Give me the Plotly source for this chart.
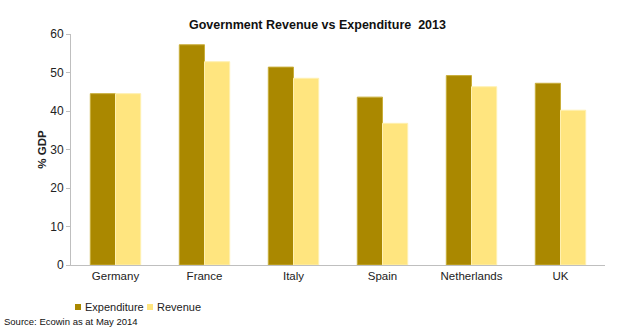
import plotly.graph_objects as go

countries = ["Germany", "France", "Italy", "Spain", "Netherlands", "UK"]
expenditure = [44.5, 57.2, 51.4, 43.6, 49.2, 47.2]
revenue = [44.5, 52.8, 48.5, 36.8, 46.3, 40.2]
y_ticks = [0, 10, 20, 30, 40, 50, 60]

series_names = ["Expenditure", "Revenue"]
series_colors = ["#AA8800", "#FFE57F"]
edge_colors = ["#C9AE3A", "#FFF0B0"]

FONT = "Liberation Sans, Arial, sans-serif"
W, H = 620, 328
ML, MR, MT, MB = 71, 15, 34, 63

fig = go.Figure()
for name, vals, col, edge in zip(series_names, [expenditure, revenue], series_colors, edge_colors):
    fig.add_trace(go.Bar(name=name, x=countries, y=vals, showlegend=False,
                         marker=dict(color=col, line=dict(color=edge, width=1))))

fig.update_layout(
    width=W, height=H,
    margin=dict(l=ML, r=MR, t=MT, b=MB, autoexpand=False),
    paper_bgcolor="white", plot_bgcolor="white",
    barmode="group", bargap=0.434, bargroupgap=0,
    font=dict(family=FONT, size=12, color="#222222"),
    title=dict(text="<b>Government Revenue vs Expenditure&nbsp;&nbsp;2013</b>",
               x=0.512, xanchor="center", y=1 - 25 / H, yanchor="middle",
               font=dict(size=12.5, color="#111111")),
    showlegend=False,
    xaxis=dict(showline=True, linecolor="#BFBFBF", linewidth=1, ticks="",
               tickfont=dict(size=11.5, color="#222222"), showgrid=False),
    yaxis=dict(range=[0, 60], tickvals=y_ticks, showline=True, linecolor="#BFBFBF",
               linewidth=1, ticks="outside", ticklen=4, tickcolor="#BFBFBF",
               showgrid=False, zeroline=False,
               tickfont=dict(size=12, color="#222222"),
               title=dict(text="<b>% GDP</b>", font=dict(size=11.5), standoff=1)),
)

# compact legend: small squares followed by series names
plot_w, plot_h = W - ML - MR, H - MT - MB
def px_x(x):
    return (x - ML) / plot_w
def px_y(y):
    return (H - MB - y) / plot_h

legend_y = 307
legend_x = [75, 147]
for lx, name, col in zip(legend_x, series_names, series_colors):
    fig.add_shape(type="rect", xref="paper", yref="paper",
                  x0=px_x(lx), x1=px_x(lx + 6), y0=px_y(legend_y - 3), y1=px_y(legend_y + 3),
                  fillcolor=col, line=dict(width=0))
    fig.add_annotation(text=name, xref="paper", yref="paper", x=px_x(lx + 7.5), xanchor="left",
                       y=px_y(legend_y), yanchor="middle", showarrow=False,
                       font=dict(size=11, color="#222222"))

fig.add_annotation(text="Source: Ecowin as at May 2014", xref="paper", yref="paper",
                   x=px_x(2), xanchor="left", y=px_y(321), yanchor="middle",
                   showarrow=False, font=dict(size=9.5, color="#111111"))

fig.write_html("out.html")
